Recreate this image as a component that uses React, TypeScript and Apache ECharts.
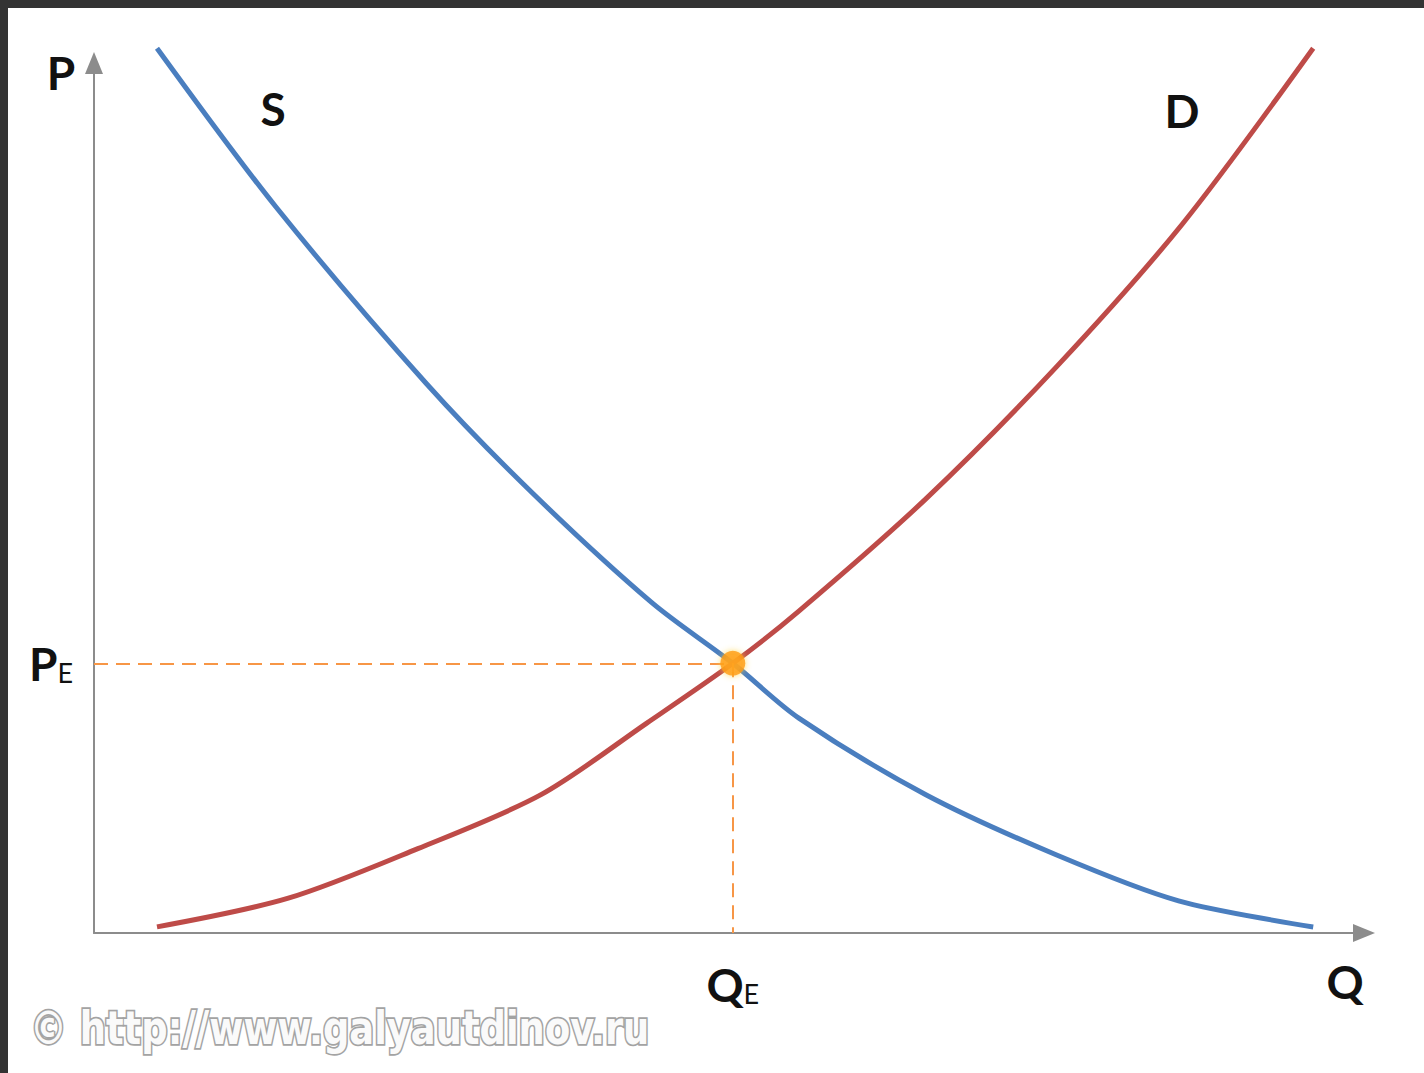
import React, { useEffect, useRef } from "react";
import * as echarts from "echarts";

// Curve "S" (blue, falling) — quantity / price pairs
const sQuantity = [4.96, 14.3, 26.2, 34.5, 43.9, 50.3, 55.5, 65.5, 75.8, 85.4, 96.0];
const sPrice = [101.7, 83.5, 63.1, 50.6, 38.0, 31.0, 24.7, 15.9, 8.97, 3.7, 0.7];

// Curve "D" (red, rising)
const dQuantity = [4.96, 15.3, 25.5, 35.2, 43.5, 50.3, 55.5, 65.5, 75.8, 85.7, 96.0];
const dPrice = [0.7, 4.0, 9.7, 15.9, 24.1, 31.0, 37.0, 49.9, 65.1, 81.5, 101.7];

// Equilibrium
const QE = 50.3;
const PE = 31.0;

const axisMin = 0;
const axisMax = 100;

const LABEL_FONT = "Lato, 'Open Sans', 'Liberation Sans', sans-serif";

function buildOption() {
  const sData = sQuantity.map((q, i) => [q, sPrice[i]]);
  const dData = dQuantity.map((q, i) => [q, dPrice[i]]);
  const axisLineStyle = { color: "#8c8c8c", width: 2 };
  const bigStyle = { fontFamily: LABEL_FONT, fontWeight: "bold", fontSize: 46, color: "#111", lineHeight: 46, verticalAlign: "bottom" };
  const subStyle = { fontFamily: LABEL_FONT, fontWeight: "normal", fontSize: 27, color: "#111", lineHeight: 31, verticalAlign: "bottom" };

  return {
    animation: false,
    backgroundColor: "#ffffff",
    grid: { left: 94, right: 60, top: 63, bottom: 140 },
    xAxis: {
      type: "value",
      min: axisMin,
      max: axisMax,
      splitLine: { show: false },
      axisTick: { show: false },
      axisLine: {
        show: true,
        symbol: ["none", "triangle"],
        symbolSize: [18, 22],
        lineStyle: axisLineStyle,
      },
      axisLabel: {
        show: true,
        customValues: [QE],
        margin: 28,
        formatter: () => "{q|Q}{e|E}",
        rich: { q: bigStyle, e: subStyle },
      },
    },
    yAxis: {
      type: "value",
      min: axisMin,
      max: axisMax,
      splitLine: { show: false },
      axisTick: { show: false },
      axisLine: {
        show: true,
        symbol: ["none", "triangle"],
        symbolSize: [18, 22],
        lineStyle: axisLineStyle,
      },
      axisLabel: {
        show: true,
        customValues: [PE],
        margin: 21,
        formatter: () => "{p|P}{e|E}",
        rich: { p: bigStyle, e: subStyle },
      },
    },
    series: [
      {
        name: "S",
        type: "line",
        data: sData,
        smooth: 0.3,
        showSymbol: false,
        clip: false,
        lineStyle: { color: "#4A7EBF", width: 5 },
        z: 3,
      },
      {
        name: "D",
        type: "line",
        data: dData,
        smooth: 0.3,
        showSymbol: false,
        clip: false,
        lineStyle: { color: "#BE4B48", width: 5 },
        z: 3,
      },
      {
        name: "Equilibrium",
        type: "scatter",
        data: [[QE, PE]],
        symbolSize: 25,
        itemStyle: {
          color: "#FF9A10",
          shadowBlur: 6,
          shadowColor: "rgba(255, 210, 60, 0.9)",
        },
        z: 5,
        markLine: {
          silent: true,
          symbol: ["none", "none"],
          label: { show: false },
          lineStyle: { color: "#F79646", width: 2, type: [14, 8] },
          data: [
            [{ coord: [axisMin, PE] }, { coord: [QE, PE] }],
            [{ coord: [QE, PE] }, { coord: [QE, axisMin] }],
          ],
        },
      },
    ],
    graphic: [
      { type: "rect", left: 0, top: 0, shape: { width: 1424, height: 8 }, style: { fill: "#333333" }, silent: true },
      { type: "rect", left: 0, top: 0, shape: { width: 8, height: 1073 }, style: { fill: "#333333" }, silent: true },
      {
        type: "text", x: 61, y: 72,
        style: { text: "P", fontFamily: LABEL_FONT, fontWeight: "bold", fontSize: 46, fill: "#111", align: "center", verticalAlign: "middle" },
      },
      {
        type: "text", x: 273, y: 108,
        style: { text: "S", fontFamily: LABEL_FONT, fontWeight: "bold", fontSize: 46, fill: "#111", align: "center", verticalAlign: "middle" },
      },
      {
        type: "text", x: 1182, y: 110,
        style: { text: "D", fontFamily: LABEL_FONT, fontWeight: "bold", fontSize: 46, fill: "#111", align: "center", verticalAlign: "middle" },
      },
      {
        type: "text", x: 1345, y: 981,
        style: { text: "Q", fontFamily: LABEL_FONT, fontWeight: "bold", fontSize: 46, fill: "#111", align: "center", verticalAlign: "middle" },
      },
      {
        type: "text", x: 30, y: 1028, scaleY: 1.12,
        style: {
          text: "© http://www.galyautdinov.ru",
          fontFamily: "'DejaVu Sans Condensed', 'Liberation Sans Narrow', sans-serif",
          fontWeight: "bold",
          fontSize: 41,
          fill: "#fafafa",
          stroke: "#a3a3a3",
          lineWidth: 3,
          align: "left",
          verticalAlign: "middle",
          shadowBlur: 3,
          shadowColor: "rgba(0,0,0,0.35)",
          shadowOffsetX: 1,
          shadowOffsetY: 1,
        },
      },
    ],
  };
}

export default function App() {
  const ref = useRef<HTMLDivElement>(null);
  useEffect(() => {
    if (!ref.current) return;
    const chart = echarts.init(ref.current, null, { renderer: "svg" });
    chart.setOption(buildOption() as any);
    return () => {
      chart.dispose();
    };
  }, []);
  return (
    <div
      ref={ref}
      style={{ position: "fixed", left: 0, top: 0, width: 1424, height: 1073, background: "#ffffff" }}
    />
  );
}
